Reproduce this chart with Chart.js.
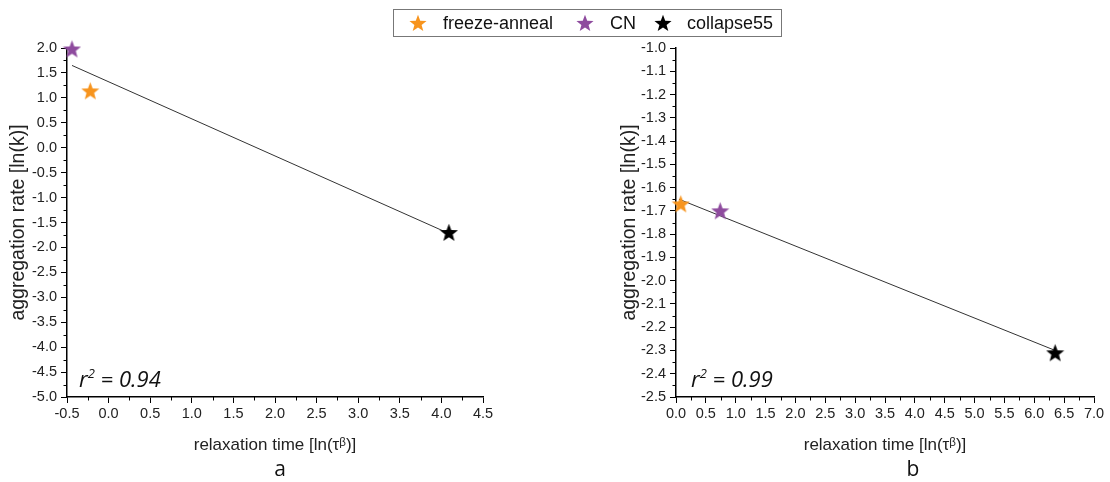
<!DOCTYPE html>
<html>
<head>
<meta charset="utf-8">
<script src="https://cdn.jsdelivr.net/npm/chart.js@4.4.1/dist/chart.umd.min.js"></script>
<style>
  body { margin: 0; background: #fff; width: 1110px; height: 482px; position: relative; overflow: hidden;
         font-family: "Liberation Sans", Arial, sans-serif; }
  canvas.plot { position: absolute; top: 0; }
  #chartA { left: 0; }
  #chartB { left: 555px; }
  .legend { position: absolute; left: 393px; top: 9px; width: 389px; height: 28px;
            border: 1px solid #777; box-sizing: border-box; }
  .legend canvas { position: absolute; }
  .legend span { position: absolute; top: 2px; font-size: 18px; line-height: 22px; color: #111; white-space: nowrap; }
  .rsq { position: absolute; top: 367px; font-family: "Open Sans", sans-serif; font-style: italic;
         font-size: 22px; line-height: 22px; color: #111; white-space: nowrap; }
  .rsq sup { font-size: 13px; vertical-align: 9px; line-height: 0; }
  .panel { position: absolute; top: 458px; width: 40px; margin-left: -20px; text-align: center;
           font-family: "Open Sans", sans-serif; font-size: 21px; line-height: 21px; color: #111; }
</style>
</head>
<body>
<canvas id="chartA" class="plot" width="555" height="482"></canvas>
<canvas id="chartB" class="plot" width="555" height="482"></canvas>
<div class="legend" id="legend"></div>
<div class="rsq" style="left:79px">r<sup>2</sup> = 0.94</div>
<div class="rsq" style="left:691px">r<sup>2</sup> = 0.99</div>
<div class="panel" style="left:280px">a</div>
<div class="panel" style="left:913px">b</div>

<script>
// series (same order in both panels)
const seriesNames = ['freeze-anneal', 'CN', 'collapse55'];
const seriesColors = ['#f7941d', '#8e4b9e', '#000000'];

// panel a: relaxation time vs aggregation rate
const relaxA = [-0.22, -0.44, 4.09];
const rateA = [1.14, 1.98, -1.70];
const fitAX = [-0.44, 4.09];
const fitAY = [1.65, -1.72];

// panel b
const relaxB = [0.08, 0.74, 6.35];
const rateB = [-1.67, -1.70, -2.31];
const fitBX = [0.05, 6.35];
const fitBY = [-1.65, -2.30];

// axis ranges [min, max, step]
const xAxisA = [-0.5, 4.5, 0.5];
const yAxisA = [-5.0, 2.0, 0.5];
const xAxisB = [0.0, 7.0, 0.5];
const yAxisB = [-2.5, -1.0, 0.1];

const xTitle = 'relaxation time [ln(τᵝ)]';
const yTitle = 'aggregation rate [ln(k)]';

function makeStar(color, size) {
  const c = document.createElement('canvas');
  c.width = size; c.height = size;
  const g = c.getContext('2d');
  const R = size / 2, r = R * 0.42;
  g.beginPath();
  for (let i = 0; i < 10; i++) {
    const a = -Math.PI / 2 + i * Math.PI / 5;
    const rad = i % 2 ? r : R;
    g.lineTo(R + rad * Math.cos(a), R + rad * Math.sin(a) + R * 0.08);
  }
  g.closePath();
  g.fillStyle = color;
  g.fill();
  return c;
}

const stars = seriesColors.map(c => makeStar(c, 19));

// legend
const legend = document.getElementById('legend');
const starLeft = [15, 182, 260];
const textLeft = [49, 216, 293];
seriesNames.forEach((name, i) => {
  const s = makeStar(seriesColors[i], 18);
  s.style.left = starLeft[i] + 'px';
  s.style.top = '4px';
  legend.appendChild(s);
  const t = document.createElement('span');
  t.textContent = name;
  t.style.left = textLeft[i] + 'px';
  legend.appendChild(t);
});

// small ticks half way between the labelled ones
const minorTicks = {
  id: 'minorTicks',
  afterDraw(chart) {
    const ctx = chart.ctx;
    ctx.save();
    ctx.strokeStyle = '#000';
    ctx.lineWidth = 1;
    ['x', 'y'].forEach(id => {
      const s = chart.scales[id];
      const t = s.ticks;
      for (let i = 0; i < t.length - 1; i++) {
        const p = Math.round(s.getPixelForValue((t[i].value + t[i + 1].value) / 2)) + 0.5;
        ctx.beginPath();
        if (id === 'x') { ctx.moveTo(p, s.top); ctx.lineTo(p, s.top + 3.5); }
        else { ctx.moveTo(s.right, p); ctx.lineTo(s.right - 3.5, p); }
        ctx.stroke();
      }
    });
    ctx.restore();
  }
};

function axis(range, title, titleSize, titlePad, fitSize, horizontal) {
  return {
    type: 'linear',
    min: range[0],
    max: range[1],
    ticks: {
      stepSize: range[2],
      autoSkip: false,
      maxRotation: 0,
      padding: horizontal ? 2 : 4,
      color: '#222',
      font: { family: '"Liberation Sans", Arial, sans-serif', size: 14.5 },
      callback: v => v.toFixed(1)
    },
    grid: { drawOnChartArea: false, drawTicks: true, tickLength: 6, color: '#000', tickWidth: 1 },
    border: { display: true, color: '#000', width: 1.5 },
    title: {
      display: true,
      text: title,
      color: '#222',
      font: { family: '"Liberation Sans", Arial, sans-serif', size: titleSize },
      padding: horizontal ? { top: 0, bottom: titlePad } : { top: titlePad, bottom: 0 }
    },
    afterFit: s => { if (horizontal) s.height = fitSize; else s.width = fitSize; }
  };
}

function buildChart(id, xs, ys, fitX, fitY, xRange, yRange, padding, yWidth, yTitlePad) {
  const datasets = seriesNames.map((name, i) => ({
    label: name,
    data: [{ x: xs[i], y: ys[i] }],
    pointStyle: stars[i],
    pointRadius: 9,
    clip: false,
    order: 0
  }));
  datasets.push({
    label: 'fit',
    data: fitX.map((x, i) => ({ x, y: fitY[i] })),
    showLine: true,
    borderColor: '#333',
    borderWidth: 1,
    pointRadius: 0,
    order: 1
  });
  return new Chart(document.getElementById(id), {
    type: 'scatter',
    data: { datasets },
    options: {
      responsive: false,
      animation: false,
      devicePixelRatio: 1,
      layout: { padding },
      scales: {
        x: axis(xRange, xTitle, 17, 26, 85, true),
        y: axis(yRange, yTitle, 19.5, yTitlePad, yWidth, false)
      },
      plugins: { legend: { display: false }, tooltip: { enabled: false } }
    },
    plugins: [minorTicks]
  });
}

buildChart('chartA', relaxA, rateA, fitAX, fitAY, xAxisA, yAxisA,
  { left: 0, top: 48, right: 72, bottom: 0 }, 67, 7);
buildChart('chartB', relaxB, rateB, fitBX, fitBY, xAxisB, yAxisB,
  { left: 60, top: 48, right: 16, bottom: 0 }, 61, 3);
</script>
</body>
</html>
